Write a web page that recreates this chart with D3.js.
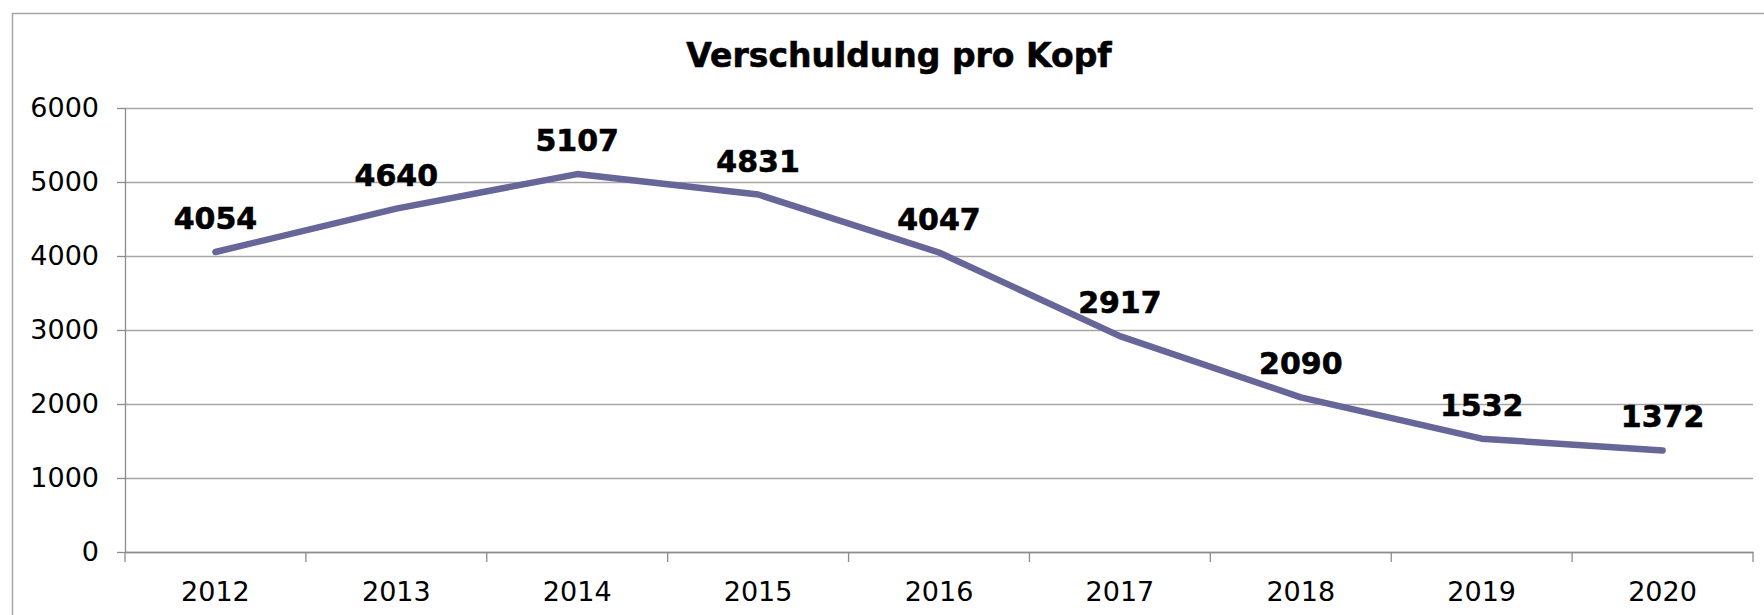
<!DOCTYPE html>
<html>
<head>
<meta charset="utf-8">
<script src="https://cdn.jsdelivr.net/npm/d3@7"></script>
<style>
  html, body { margin: 0; padding: 0; background: #fff; overflow: hidden; }
  text { font-family: "DejaVu Sans", Verdana, sans-serif; fill: #000; }
</style>
</head>
<body>
<div id="chart"></div>
<script>
// Data
const years = ["2012", "2013", "2014", "2015", "2016", "2017", "2018", "2019", "2020"];
const debtPerHead = [4054, 4640, 5107, 4831, 4047, 2917, 2090, 1532, 1372];
const yTicks = [0, 1000, 2000, 3000, 4000, 5000, 6000];
const title = "Verschuldung pro Kopf";

function lineChart() {
  const width = 1764;
  const height = 615;
  const plot = { left: 125, right: 1753, top: 108, bottom: 552 };

  const svg = d3.select("#chart")
    .append("svg")
    .attr("width", width)
    .attr("height", height);

  // Outer chart frame (runs off the right and bottom edge)
  svg.append("rect")
    .attr("x", 12.5)
    .attr("y", 13.5)
    .attr("width", 1800)
    .attr("height", 700)
    .attr("fill", "#fff")
    .attr("stroke", "#a6a6a6")
    .attr("stroke-width", 1.5);

  // Scales
  const x = d3.scaleBand().domain(years).range([plot.left, plot.right]);
  const y = d3.scaleLinear().domain([0, 6000]).range([plot.bottom, plot.top]);

  // Gridlines
  svg.append("g")
    .attr("transform", `translate(${plot.left},0)`)
    .call(d3.axisLeft(y).tickValues(yTicks).tickSize(-(plot.right - plot.left)).tickFormat(""))
    .call((g) => g.select(".domain").remove())
    .call((g) => g.selectAll("line").attr("stroke", "#a6a6a6").attr("stroke-width", 1.3));

  // Y axis
  svg.append("g")
    .attr("transform", `translate(${plot.left},0)`)
    .call(d3.axisLeft(y).tickValues(yTicks).tickSize(8).tickSizeOuter(0).tickPadding(18).tickFormat(d3.format("d")))
    .call((g) => g.select(".domain").attr("stroke", "#8c8c8c").attr("stroke-width", 1.3))
    .call((g) => g.selectAll("line").attr("stroke", "#8c8c8c").attr("stroke-width", 1.3))
    .call((g) => g.selectAll("text").style("font-size", "27px").attr("fill", "#000"));

  // X axis (labels at band centres)
  const xAxis = svg.append("g")
    .attr("transform", `translate(0,${plot.bottom})`)
    .call(d3.axisBottom(x).tickSize(0).tickPadding(30))
    .call((g) => g.select(".domain").attr("stroke", "#8c8c8c").attr("stroke-width", 1.3))
    .call((g) => g.selectAll("text").style("font-size", "27px").attr("fill", "#000"));

  // X tick marks at band boundaries
  const boundaries = years.map((d) => x(d)).concat([x.range()[1]]);
  xAxis.selectAll(".boundary")
    .data(boundaries)
    .enter()
    .append("line")
    .attr("x1", (d) => d)
    .attr("x2", (d) => d)
    .attr("y1", 0)
    .attr("y2", 10)
    .attr("stroke", "#8c8c8c")
    .attr("stroke-width", 1.3);

  // Line
  const points = years.map((d, i) => ({ year: d, value: debtPerHead[i] }));
  const line = d3.line()
    .x((d) => x(d.year) + x.bandwidth() / 2)
    .y((d) => y(d.value));

  svg.append("path")
    .datum(points)
    .attr("d", line)
    .attr("fill", "none")
    .attr("stroke", "#666699")
    .attr("stroke-width", 6.5)
    .attr("stroke-linejoin", "round")
    .attr("stroke-linecap", "round");

  // Value labels
  svg.selectAll(".value-label")
    .data(points)
    .enter()
    .append("text")
    .attr("x", (d) => x(d.year) + x.bandwidth() / 2)
    .attr("y", (d) => y(d.value) - 23)
    .attr("text-anchor", "middle")
    .style("font-size", "30px")
    .style("font-weight", "bold")
    .style("stroke", "#000")
    .style("stroke-width", "0.6px")
    .text((d) => d.value);

  // Title
  svg.append("text")
    .attr("x", 899)
    .attr("y", 67)
    .attr("text-anchor", "middle")
    .style("font-size", "33px")
    .style("font-weight", "bold")
    .style("stroke", "#000")
    .style("stroke-width", "0.6px")
    .text(title);
}

window.onload = lineChart;
</script>
</body>
</html>
